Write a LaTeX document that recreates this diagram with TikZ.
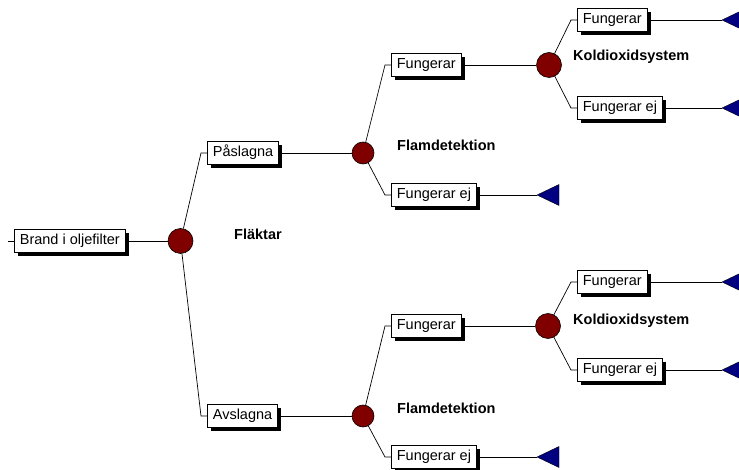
\documentclass[tikz,border=0pt]{standalone}
\usepackage{fontspec}
\setmainfont{Liberation Sans}
\usetikzlibrary{shadows}
\definecolor{chancered}{HTML}{800000}
\definecolor{endblue}{HTML}{000080}

\begin{document}
\begin{tikzpicture}[x=1pt,y=-1pt,
  every node/.style={font=\fontsize{14.5}{17}\selectfont},
  outcome/.style={draw=black, fill=white, line width=0.7pt, anchor=west,
    minimum height=23pt, inner xsep=5.5pt, inner ysep=0pt,
    text height=10.5pt, text depth=3pt,
    drop shadow={shadow xshift=3.5pt, shadow yshift=-3.5pt, fill=black, opacity=1}},
  chance/.style={circle, draw=black, fill=chancered, line width=0.6pt,
    inner sep=0pt, minimum size=25pt},
  smallchance/.style={chance, minimum size=22pt},
  stage/.style={font=\bfseries\fontsize{14.5}{17}\selectfont, anchor=west, inner sep=0pt},
  branch/.style={draw=black, line width=0.7pt},
  endmark/.style={fill=endblue, draw=black, line width=0.4pt}]

\useasboundingbox (0,0) rectangle (739,470);
\clip (0,0) rectangle (739,470);

% root event
\node[outcome] (root) at (14,241) {Brand i oljefilter};
\coordinate (stub) at (8,241);
\node[chance] (c1) at (180.5,241) {};

% fans
\node[outcome] (pas) at (207,153) {Påslagna};
\node[outcome] (avs) at (207,416) {Avslagna};
\node[smallchance] (c2) at (363,153) {};
\node[smallchance] (c4) at (363,416) {};

% flame detection, upper
\node[outcome] (f1) at (391,65) {Fungerar};
\node[outcome] (fe1) at (391,195) {Fungerar ej};
\node[chance] (c3) at (549,65) {};
\node[outcome] (f11) at (577,20) {Fungerar};
\node[outcome] (fe11) at (577,108) {Fungerar ej};

% flame detection, lower
\node[outcome] (f2) at (391,326) {Fungerar};
\node[outcome] (fe2) at (391,457) {Fungerar ej};
\node[chance] (c5) at (548,326) {};
\node[outcome] (f21) at (577,282) {Fungerar};
\node[outcome] (fe21) at (577,370) {Fungerar ej};

% stage labels
\node[stage] (lf) at (234,234) {Fläktar};
\node[stage] (ld1) at (397,145) {Flamdetektion};
\node[stage] (ld2) at (397,408) {Flamdetektion};
\node[stage] (lk1) at (573,57) {Koldioxidsystem};
\node[stage] (lk2) at (573,321) {Koldioxidsystem};

% end points
\coordinate (t1) at (537,195);
\coordinate (t2) at (537,457);
\coordinate (t3) at (722,20);
\coordinate (t4) at (722,108);
\coordinate (t5) at (722,282);
\coordinate (t6) at (722,370);
\foreach \t in {t1,t2,t3,t4,t5,t6}
  \path[endmark] (\t) -- ++(22,-10.5) -- ++(0,21) -- cycle;

% connectors
\draw[branch] (stub) -- (root.west);
\draw[branch] (root.east) -- (c1);
\foreach \c/\b in {c1/pas, c1/avs, c2/f1, c2/fe1, c3/f11, c3/fe11,
                   c4/f2, c4/fe2, c5/f21, c5/fe21}
  \draw[branch] (\c) -- ([xshift=-6pt]\b.west) -- (\b.west);
\draw[branch] (pas.east) -- (c2);
\draw[branch] (avs.east) -- (c4);
\draw[branch] (f1.east) -- (c3);
\draw[branch] (f2.east) -- (c5);
\draw[branch] (fe1.east) -- (t1);
\draw[branch] (fe2.east) -- (t2);
\draw[branch] (f11.east) -- (t3);
\draw[branch] (fe11.east) -- (t4);
\draw[branch] (f21.east) -- (t5);
\draw[branch] (fe21.east) -- (t6);
\end{tikzpicture}
\end{document}
